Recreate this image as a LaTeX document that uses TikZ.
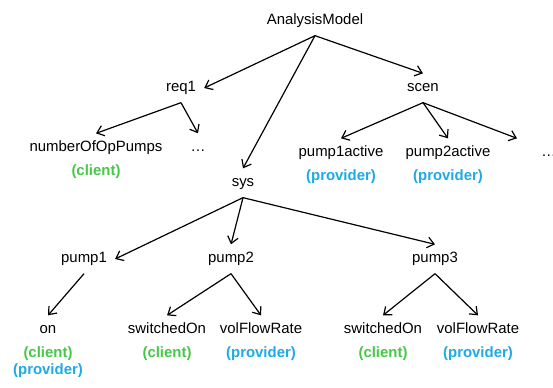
\documentclass[tikz,border=0pt]{standalone}
\usepackage{fontspec}
\setmainfont{Liberation Sans}
\usetikzlibrary{positioning,arrows.meta}

\definecolor{clientgreen}{RGB}{70,200,70}
\definecolor{providerblue}{RGB}{30,170,230}

\tikzstyle{elem} = [inner sep=6pt, text height=0.75em, text depth=0.21em, font=\fontsize{11.2}{13}\selectfont]
\tikzstyle{clientlbl} = [elem, inner sep=1.5pt, font=\fontsize{11.2}{13}\selectfont\bfseries, text=clientgreen]
\tikzstyle{providerlbl} = [elem, inner sep=1.5pt, font=\fontsize{11.2}{13}\selectfont\bfseries, text=providerblue]
\tikzstyle{link} = [draw, line width=0.9pt, -{Straight Barb[length=5pt,width=8pt]}]

\begin{document}
\begin{tikzpicture}[x=0.75pt, y=-0.75pt]
        \tikzset{node distance = 0.5pt}
        \useasboundingbox (0,0) rectangle (553,387);
        % tree of the analysis model
        \node (am) at (315,21) [elem] {AnalysisModel};
        \node (req1) at (181,88) [elem] {req1};
        \node (scen) at (423,88) [elem] {scen};
        \node (sys) at (243,183) [elem] {sys};

        \node (nop) at (96,148) [elem] {numberOfOpPumps};
        \node (dots1) at (198,148) [elem] {…};
        \node (p1act) at (341,153) [elem] {pump1active};
        \node (p2act) at (448,153) [elem] {pump2active};
        \node (dots2) at (533,153) [elem, anchor=west] {…};

        \node (pump1) at (84,259) [elem] {pump1};
        \node (pump2) at (231,259) [elem] {pump2};
        \node (pump3) at (435,259) [elem] {pump3};

        \node (on) at (48,330) [elem] {on};
        \node (swOn2) at (167,330) [elem] {switchedOn};
        \node (vfr2) at (261,330) [elem] {volFlowRate};
        \node (swOn3) at (383,330) [elem] {switchedOn};
        \node (vfr3) at (478,330) [elem] {volFlowRate};

        % roles
        \node (nopC) [clientlbl, below=of nop] {(client)};
        \node (p1actP) [providerlbl, below=of p1act] {(provider)};
        \node (p2actP) [providerlbl, below=of p2act] {(provider)};
        \node (onC) [clientlbl, below=of on] {(client)};
        \node (onP) [providerlbl, below=0pt of onC] {(provider)};
        \node (swOn2C) [clientlbl, below=of swOn2] {(client)};
        \node (vfr2P) [providerlbl, below=of vfr2] {(provider)};
        \node (swOn3C) [clientlbl, below=of swOn3] {(client)};
        \node (vfr3P) [providerlbl, below=of vfr3] {(provider)};

        % connectors
        \path[link] (am.south) -- (req1.east);
        \path[link] (am.south) -- (sys.north);
        \path[link] (am.south) -- (scen.north);
        \path[link] (req1.south) -- (nop.north);
        \path[link] (req1.south) -- (dots1.north);
        \path[link] (scen.south) -- (p1act.north);
        \path[link] (scen.south) -- (p2act.north);
        \path[link] (scen.south) -- ([xshift=-12pt]dots2.north west);
        \path[link] (sys.south) -- (pump1.east);
        \path[link] (sys.south) -- (pump2.north);
        \path[link] (sys.south) -- (pump3.north);
        \path[link] (pump1.south) -- (on.north);
        \path[link] (pump2.south) -- (swOn2.north);
        \path[link] (pump2.south) -- (vfr2.north);
        \path[link] (pump3.south) -- (swOn3.north);
        \path[link] (pump3.south) -- (vfr3.north);
    \end{tikzpicture}
\end{document}
